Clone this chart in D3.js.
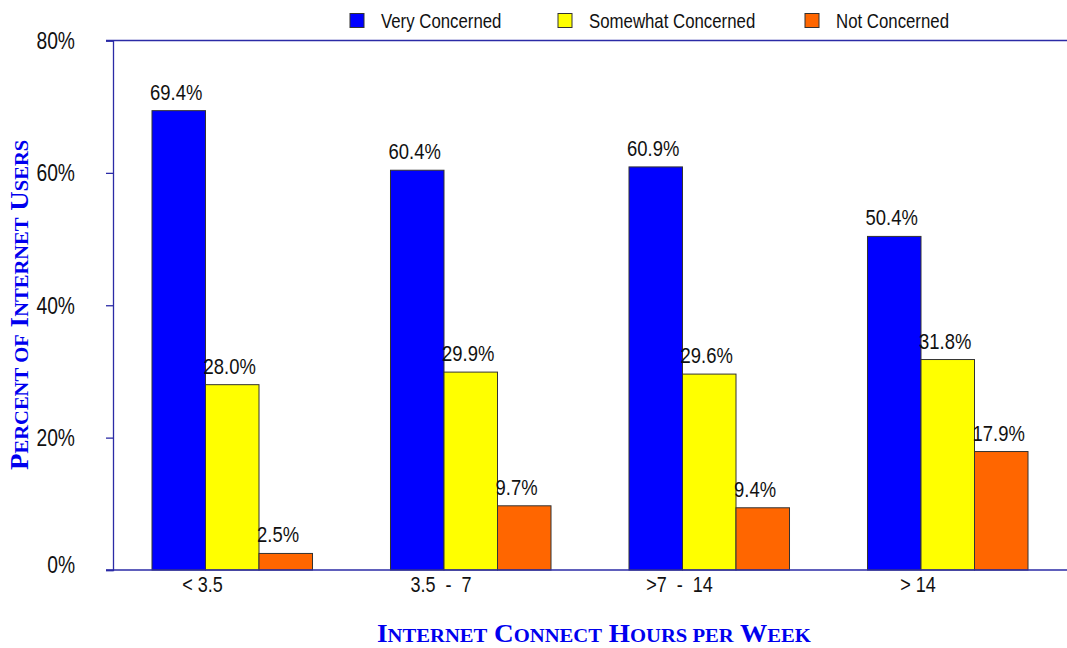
<!DOCTYPE html>
<html>
<head>
<meta charset="utf-8">
<script src="https://cdn.jsdelivr.net/npm/d3@7"></script>
<style>
  html, body { margin: 0; padding: 0; background: #fff; }
  svg { display: block; }
  .narrow { font-family: "Liberation Sans", Arial, sans-serif; fill: #111; }
  .title { font-family: "Liberation Serif", "DejaVu Serif", serif; font-weight: bold; fill: #0000ee; }
</style>
</head>
<body>
<svg id="chart" width="1067" height="648"></svg>
<script>
// Connect hours per week
const categories = ["< 3.5", "3.5  -  7", ">7  -  14", "> 14"];
const seriesNames = ["Very Concerned", "Somewhat Concerned", "Not Concerned"];
const veryConcerned = [69.4, 60.4, 60.9, 50.4];
const somewhatConcerned = [28.0, 29.9, 29.6, 31.8];
const notConcerned = [2.5, 9.7, 9.4, 17.9];
const yTicks = [0, 20, 40, 60, 80];
const seriesColors = ["#0000ff", "#ffff00", "#ff6600"];

const seriesValues = [veryConcerned, somewhatConcerned, notConcerned];

const svg = d3.select("#chart");
const W = 1067, H = 648;
const m = { left: 113, right: 0, top: 40.5, bottom: 78 };
const axisColor = "#2b2ba6";
const NARROW = 0.82; // horizontal condensing for the label face

// Condensed text placed at (x, y)
function narrowText(sel, x, y, size) {
  return sel.attr("class", "narrow")
    .attr("transform", `translate(${x},${y}) scale(${NARROW},1)`)
    .style("font-size", size + "px");
}

const x0 = d3.scaleBand().domain(categories)
  .range([m.left, W - m.right])
  .paddingInner(0.327).paddingOuter(0.1635);
const x1 = d3.scaleBand().domain(seriesNames).range([0, x0.bandwidth()]);
const y = d3.scaleLinear().domain([0, 80]).range([H - m.bottom, m.top]);
const color = d3.scaleOrdinal().domain(seriesNames).range(seriesColors);

// Top border
svg.append("line")
  .attr("x1", m.left - 7).attr("x2", W)
  .attr("y1", y(80)).attr("y2", y(80))
  .attr("stroke", axisColor).attr("stroke-width", 1.3);

// Y axis with outward ticks
const yAxis = d3.axisLeft(y).tickValues(yTicks).tickSize(7).tickFormat("");
svg.append("g")
  .attr("transform", `translate(${m.left},0)`)
  .call(yAxis)
  .call(g => g.select(".domain").attr("stroke", axisColor).attr("stroke-width", 1.3))
  .call(g => g.selectAll(".tick line").attr("stroke", axisColor).attr("stroke-width", 1.3));

// Y tick labels
svg.append("g").selectAll("text")
  .data(yTicks)
  .join("text")
  .each(function (d) {
    narrowText(d3.select(this), 75, y(d) + (d === 0 ? 2.5 : 8.5), 23.5);
  })
  .attr("text-anchor", "end")
  .text(d => d + "%");

// Bars
const groups = svg.append("g").selectAll("g")
  .data(categories)
  .join("g")
  .attr("transform", d => `translate(${x0(d)},0)`);

const rows = (c, i) => seriesNames.map((s, k) => ({ s, v: seriesValues[k][i] }));

groups.selectAll("rect")
  .data(rows)
  .join("rect")
  .attr("x", d => x1(d.s))
  .attr("y", d => y(d.v))
  .attr("width", x1.bandwidth())
  .attr("height", d => y(0) - y(d.v))
  .attr("fill", d => color(d.s))
  .attr("stroke", "#333")
  .attr("stroke-width", 1);

// Value labels
groups.selectAll("text")
  .data(rows)
  .join("text")
  .each(function (d) {
    narrowText(d3.select(this), x1(d.s) - 2, y(d.v) - 11, 22.5);
  })
  .text(d => d.v.toFixed(1) + "%");

// X axis baseline
svg.append("line")
  .attr("x1", m.left - 7).attr("x2", W)
  .attr("y1", y(0)).attr("y2", y(0))
  .attr("stroke", axisColor).attr("stroke-width", 1.3);

// Category labels
svg.append("g").selectAll("text")
  .data(categories)
  .join("text")
  .each(function (d) {
    narrowText(d3.select(this), x0(d) + x1.bandwidth() - 3, y(0) + 22, 22);
  })
  .attr("text-anchor", "middle")
  .attr("xml:space", "preserve")
  .style("white-space", "pre")
  .text(d => d);

// Legend
const legend = svg.append("g");
const legendX = [350, 558, 805];
seriesNames.forEach((s, k) => {
  legend.append("rect")
    .attr("x", legendX[k]).attr("y", 13.5)
    .attr("width", 14).attr("height", 14)
    .attr("fill", seriesColors[k])
    .attr("stroke", "#333").attr("stroke-width", 1);
  narrowText(legend.append("text"), legendX[k] + 31, 28, 20.5).text(s);
});

// Small-caps title: words as [initial, rest]
function smallCaps(sel, words, big, small) {
  words.forEach((w, i) => {
    const lead = i > 0 ? " " : "";
    if (w[0]) sel.append("tspan").style("font-size", big + "px").text(lead + w[0]);
    else if (lead) sel.append("tspan").style("font-size", small + "px").text(lead);
    sel.append("tspan").style("font-size", small + "px").text(w[1]);
  });
}
function fitScale(textSel, target) {
  return target / textSel.node().getComputedTextLength();
}

// X title
const xt = svg.append("text").attr("class", "title");
smallCaps(xt, [["I", "NTERNET"], ["C", "ONNECT"], ["H", "OURS"], ["", "PER"], ["W", "EEK"]], 25, 19);
xt.attr("transform", `translate(377,642) scale(${fitScale(xt, 434)},1)`);

// Y title
const yt = svg.append("text").attr("class", "title");
smallCaps(yt, [["P", "ERCENT"], ["", "OF"], ["I", "NTERNET"], ["U", "SERS"]], 25, 19);
yt.attr("transform", `translate(28,470) rotate(-90) scale(${fitScale(yt, 330)},1)`);
</script>
</body>
</html>
